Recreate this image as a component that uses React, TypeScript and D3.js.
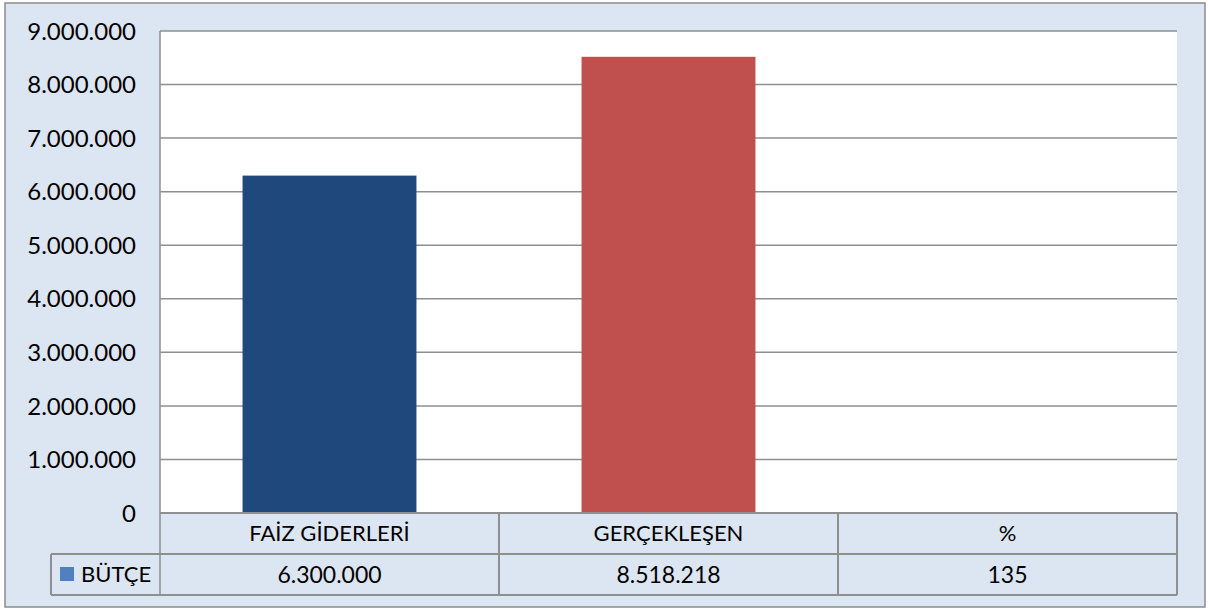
import React from "react";
import * as d3 from "d3";

const categories: string[] = ["FAİZ GİDERLERİ", "GERÇEKLEŞEN", "%"];
const seriesName = "BÜTÇE";
const values: number[] = [6300000, 8518218, 135];
const tableLabels: string[] = ["6.300.000", "8.518.218", "135"];
const yTicks: number[] = [0, 1000000, 2000000, 3000000, 4000000, 5000000, 6000000, 7000000, 8000000, 9000000];
const barColors: string[] = ["#1F497D", "#C0504D", "#9BBB59"];
const legendColor = "#4F81BD";

const W = 1208;
const H = 610;
const plotL = 160;
const plotR = 1177;
const plotT = 31;
const plotB = 513;
const rowH = 41;
const legendL = 51;
const FONT = "Lato, 'Noto Sans', sans-serif";

const locale = d3.formatLocale({ decimal: ",", thousands: ".", grouping: [3], currency: ["", ""] });
const fmt = locale.format(",d");

export default function App() {
  const y = d3.scaleLinear().domain([0, 9000000]).range([plotB, plotT]);
  const x = d3.scaleBand<string>().domain(categories).range([plotL, plotR]).paddingInner(0.487).paddingOuter(0.2435);
  const step = x.step();
  const row1T = plotB;
  const row2T = plotB + rowH;
  const row2B = row2T + rowH;
  const grid = "#8f8f8f";
  return (
    <svg width={W} height={H} style={{ position: "absolute", left: 0, top: 0 }} fontFamily={FONT}>
      <rect x={0} y={0} width={W} height={H} fill="#ffffff" />
      <rect x={5} y={3} width={1200} height={604} fill="#DCE6F2" stroke="#8c8c8c" strokeWidth={1.5} />
      <rect x={plotL} y={plotT} width={plotR - plotL} height={plotB - plotT} fill="#ffffff" />
      {yTicks.map((t) => (
        <g key={t}>
          <line x1={plotL} x2={plotR} y1={y(t)} y2={y(t)} stroke={grid} strokeWidth={1.5} />
          <text x={136} y={y(t)} dy="0.36em" textAnchor="end" fontSize={24} fill="#000">
            {fmt(t)}
          </text>
        </g>
      ))}
      {categories.map((c, i) => (
        <rect key={c} x={x(c)} y={y(values[i])} width={x.bandwidth()} height={plotB - y(values[i])} fill={barColors[i]} />
      ))}
      {/* data table */}
      <line x1={plotL} x2={plotL} y1={plotT} y2={row2B} stroke={grid} strokeWidth={1.5} />
      <line x1={plotL} x2={plotR} y1={row1T} y2={row1T} stroke={grid} strokeWidth={2} />
      <line x1={legendL} x2={plotR} y1={row2T} y2={row2T} stroke={grid} strokeWidth={2} />
      <line x1={legendL} x2={plotR} y1={row2B} y2={row2B} stroke={grid} strokeWidth={2} />
      <line x1={legendL} x2={legendL} y1={row2T} y2={row2B} stroke={grid} strokeWidth={2} />
      {categories.map((c, i) => {
        const left = (x(c) as number) - (step - x.bandwidth()) / 2;
        const cx = left + step / 2;
        return (
          <g key={"t" + c}>
            <line x1={left + step} x2={left + step} y1={row1T} y2={row2B} stroke={grid} strokeWidth={2} />
            <text x={cx} y={row1T + rowH / 2} dy="0.36em" textAnchor="middle" fontSize={22} fill="#000">
              {c}
            </text>
            <text x={cx} y={row2T + rowH / 2} dy="0.36em" textAnchor="middle" fontSize={23} fill="#000">
              {tableLabels[i]}
            </text>
          </g>
        );
      })}
      <rect x={60} y={567} width={14} height={14} fill={legendColor} />
      <text x={81} y={row2T + rowH / 2} dy="0.36em" fontSize={22} fill="#000">
        {seriesName}
      </text>
    </svg>
  );
}
